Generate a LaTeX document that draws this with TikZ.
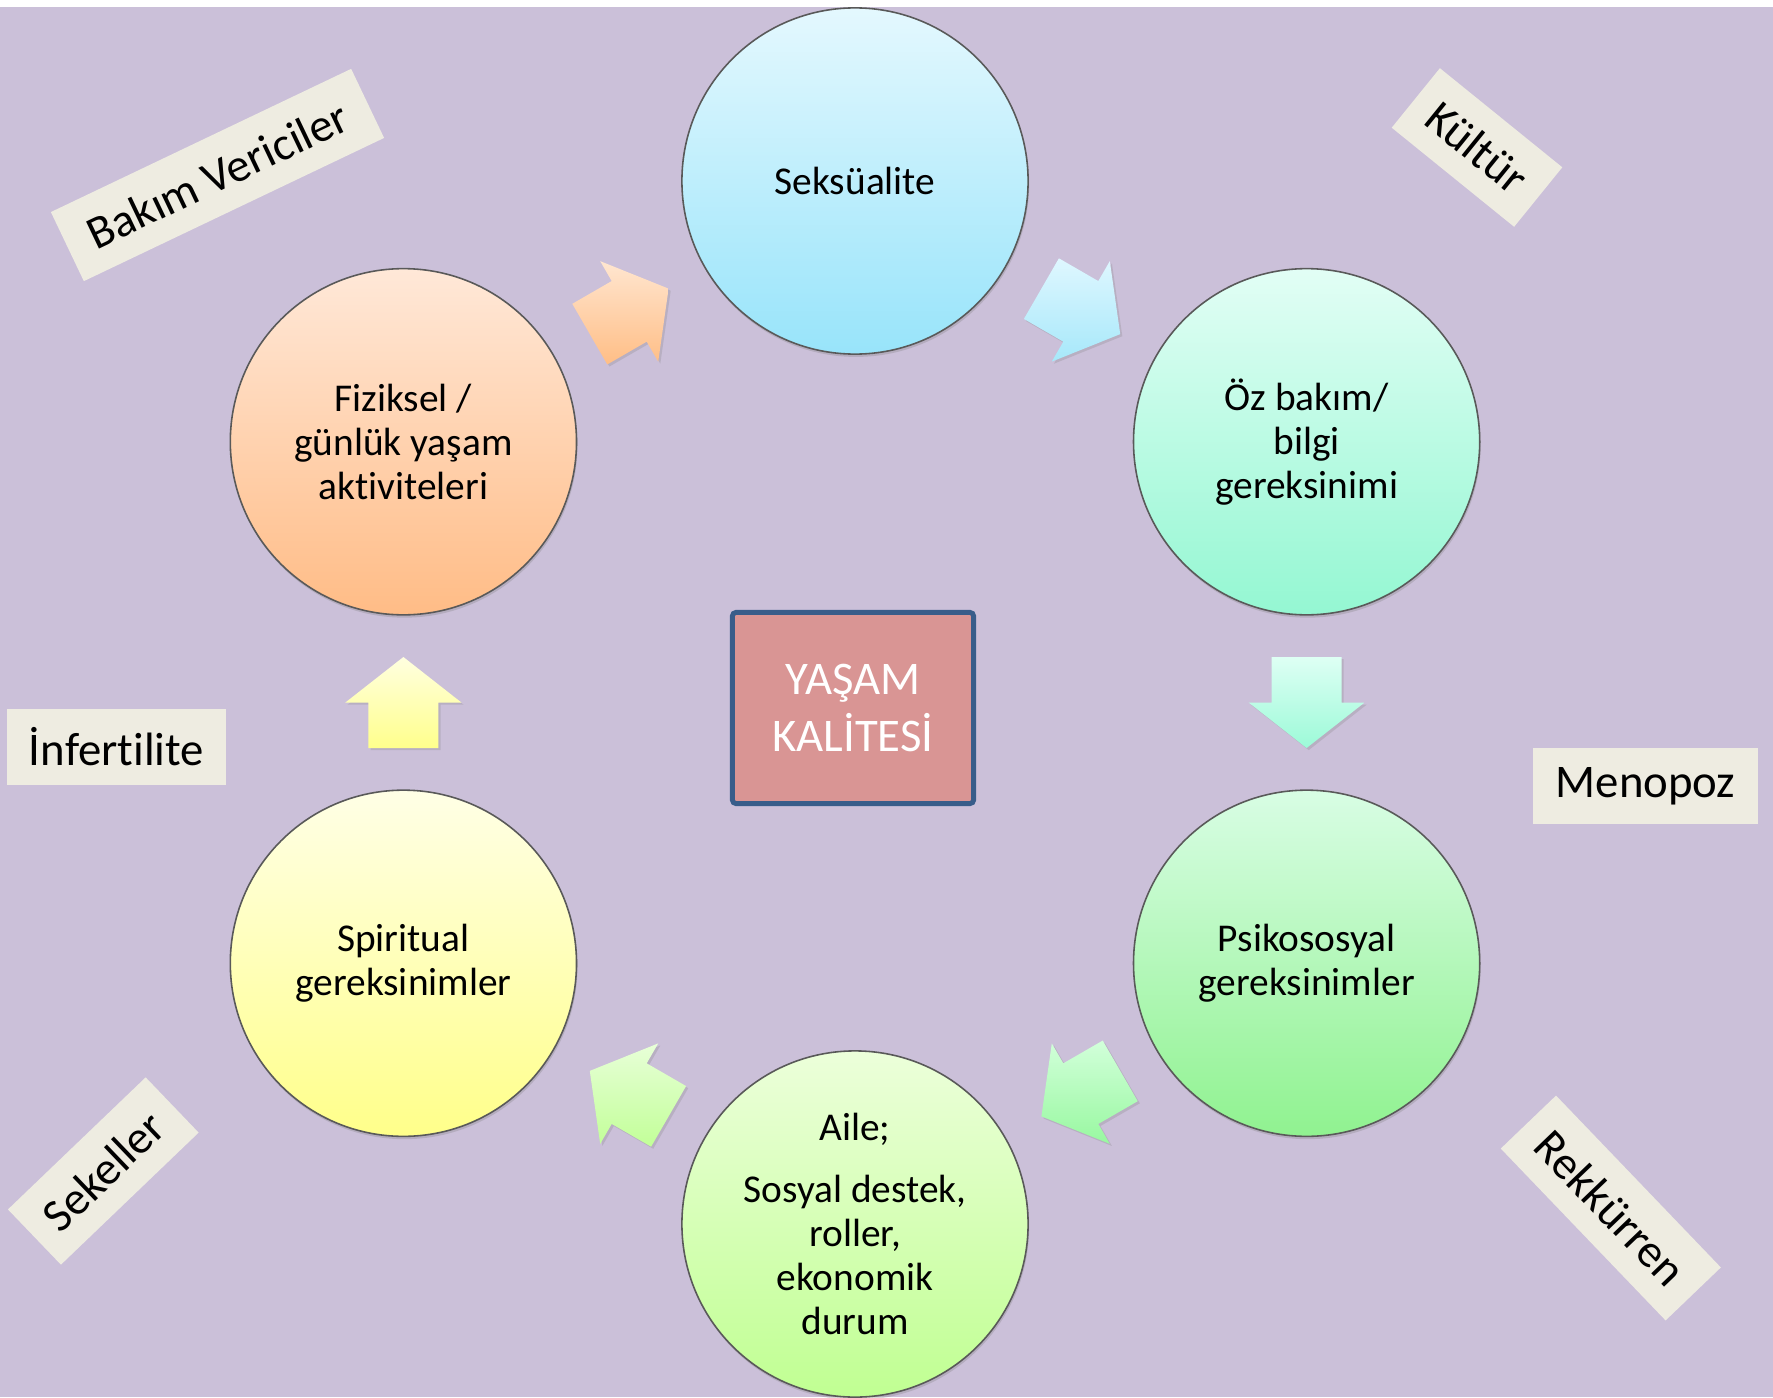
\documentclass[tikz,border=0pt]{standalone}
\usepackage{fontspec}
\setmainfont{Carlito}[Ligatures=NoCommon]
\usetikzlibrary{calc,shadows}
\definecolor{bgp}{HTML}{CBC0D9}
\definecolor{labfill}{HTML}{EEECE1}
\definecolor{boxblue}{HTML}{385D8A}
\definecolor{boxfill}{HTML}{D99594}
\definecolor{sekT}{HTML}{E4F8FE}
\definecolor{sekB}{HTML}{98E4FA}
\definecolor{ozT}{HTML}{E2FEF5}
\definecolor{ozB}{HTML}{94F7D2}
\definecolor{psiT}{HTML}{D8FDE4}
\definecolor{psiB}{HTML}{90F290}
\definecolor{aileT}{HTML}{ECFFDA}
\definecolor{aileB}{HTML}{C0FF92}
\definecolor{spiT}{HTML}{FFFFE6}
\definecolor{spiB}{HTML}{FFFF8A}
\definecolor{fizT}{HTML}{FFE8D8}
\definecolor{fizB}{HTML}{FFBC86}
\definecolor{aOrT}{HTML}{FFE6D0}
\definecolor{aOrB}{HTML}{FFBE86}
\definecolor{aBlT}{HTML}{DFF7FF}
\definecolor{aBlB}{HTML}{A6E8FA}
\definecolor{aMiT}{HTML}{DEFFF4}
\definecolor{aMiB}{HTML}{9CFAD8}
\definecolor{aGrT}{HTML}{D2FFDA}
\definecolor{aGrB}{HTML}{98F8A0}
\definecolor{aLgT}{HTML}{E8FFD8}
\definecolor{aLgB}{HTML}{C2FF98}
\definecolor{aYeT}{HTML}{FFFFE0}
\definecolor{aYeB}{HTML}{FFFF8C}
\newcommand\blockarrow[5]{%
  \path[arrsh, top color=#4, bottom color=#5, shift={($(#1)!0.5!(#2)$)}, rotate=#3]
    (-45.5,35) -- (0,35) -- (0,58) -- (45.5,0) -- (0,-58) -- (0,-35) -- (-45.5,-35) -- cycle;}
\begin{document}
\begin{tikzpicture}[x=0.01cm,y=-0.01cm,
  circ/.style={circle, minimum size=3.46cm, inner sep=0pt, draw=black!65, line width=0.45pt,
    align=center, font=\fontsize{11.2}{12.5}\selectfont,
    drop shadow={opacity=0.3,shadow xshift=0.3pt,shadow yshift=-0.8pt}},
  lab/.style={fill=labfill, inner sep=0pt, minimum height=0.765cm, font=\fontsize{13.3}{16}\selectfont},
  arrsh/.style={drop shadow={opacity=0.25,shadow xshift=0.6pt,shadow yshift=-0.6pt}}
]
\useasboundingbox (0,0) rectangle (1773,1397);
\fill[white] (0,0) rectangle (1773,1397);
\fill[bgp] (0,7) rectangle (1773,1397);

% circles
\node[circ, top color=sekT, bottom color=sekB] (sek) at (855,181) {Seksüalite};
\node[circ, top color=ozT, bottom color=ozB] (oz) at (1306.6,441.75) {Öz bakım/\\bilgi\\gereksinimi};
\node[circ, top color=psiT, bottom color=psiB] (psi) at (1306.6,963.25) {Psikososyal\\gereksinimler};
\node[circ, top color=aileT, bottom color=aileB] (aile) at (855,1224) {Aile;\\[5pt]Sosyal destek,\\roller,\\ekonomik\\durum};
\node[circ, top color=spiT, bottom color=spiB] (spi) at (403.4,963.25) {Spiritual\\gereksinimler};
\node[circ, top color=fizT, bottom color=fizB] (fiz) at (403.4,441.75) {Fiziksel /\\günlük yaşam\\aktiviteleri};

% block arrows
\blockarrow{fiz}{sek}{30}{aOrT}{aOrB}
\blockarrow{sek}{oz}{-30}{aBlT}{aBlB}
\blockarrow{oz}{psi}{-90}{aMiT}{aMiB}
\blockarrow{psi}{aile}{-150}{aGrT}{aGrB}
\blockarrow{aile}{spi}{150}{aLgT}{aLgB}
\blockarrow{spi}{fiz}{90}{aYeT}{aYeB}

% centre box
\node[draw=boxblue, fill=boxfill, line width=1.4pt, minimum width=2.41cm, minimum height=1.91cm,
  text=white, align=center, font=\fontsize{13.3}{16}\selectfont, rounded corners=1pt] (yk) at (853,708) {YAŞAM\\KALİTESİ};

% labels
\node[lab, minimum width=3.325cm, rotate=25.5] (bv) at (217.5,175) {Bakım Vericiler};
\node[lab, minimum width=1.574cm, rotate=-39] (ku) at (1477,147.5) {Kültür};
\node[lab, minimum width=1.907cm, rotate=43.8] (sk) at (103.3,1171) {Sekeller};
\node[lab, minimum width=2.38cm, rotate=-46.2] (re) at (1610.8,1208) {Rekkürren};
\node[lab, minimum width=2.19cm] (inf) at (116.5,747) {İnfertilite};
\node[lab, minimum width=2.25cm] (men) at (1645.5,786) {Menopoz};
\end{tikzpicture}
\end{document}
